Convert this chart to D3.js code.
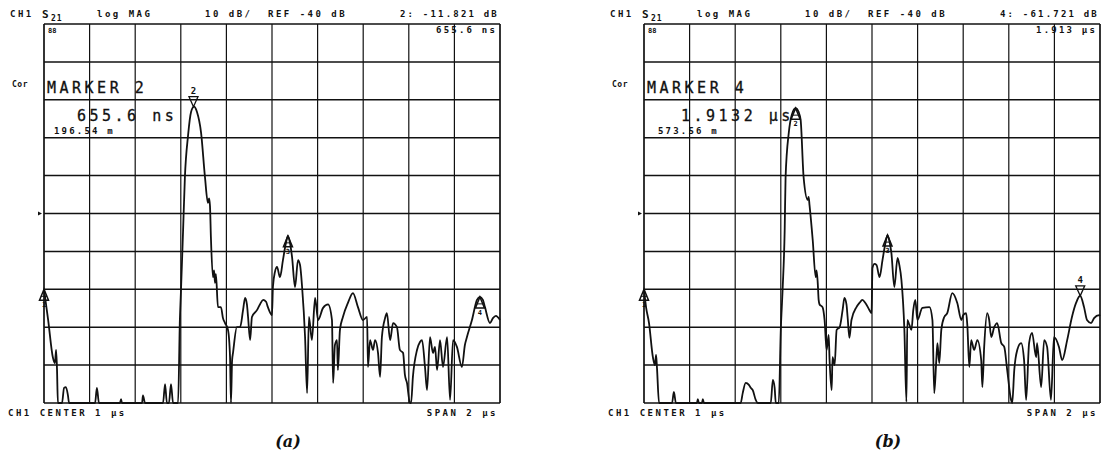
<!DOCTYPE html>
<html><head><meta charset="utf-8">
<script src="https://cdn.jsdelivr.net/npm/d3@7"></script>
<style>
html,body{margin:0;padding:0;background:#fff;}
svg{display:block;}
.sm{font-family:"DejaVu Sans Mono",monospace;font-weight:bold;font-size:9px;letter-spacing:2.5px;fill:#111;}
.big{font-family:"DejaVu Sans Mono",monospace;font-size:15px;letter-spacing:3.5px;fill:#111;stroke:#111;stroke-width:0.3px;}
.cap{font-family:"DejaVu Serif",serif;font-weight:bold;font-style:italic;font-size:16px;fill:#111;}
</style></head>
<body>
<script>
// ---------- data ----------
const timeA = [0,18,39,48,53,57,61,79,88,96,105,110,224,232,241,333,338,342,430,434,443,522,531,539,548,557,566,588,596,601,610,618,632,645,658,671,689,706,719,724,728,732,741,746,750,754,763,776,785,794,807,816,820,825,829,846,860,873,882,890,895,904,912,934,947,961,974,982,1000,1004,1013,1022,1035,1048,1061,1070,1079,1088,1101,1114,1123,1132,1145,1154,1162,1175,1189,1202,1224,1246,1263,1268,1276,1285,1289,1298,1311,1333,1355,1377,1399,1417,1421,1430,1443,1452,1465,1474,1482,1496,1504,1518,1531,1548,1561,1575,1583,1592,1605,1610,1618,1636,1649,1658,1671,1680,1693,1706,1715,1724,1737,1750,1768,1781,1794,1811,1833,1846,1855,1877,1899,1912,1925,1934,1956,1969,1982,2000];
const dbA = [-60,-68,-78,-79.5,-76,-81,-90,-90,-86,-85.8,-88,-90,-90,-86,-90,-90,-89,-90,-90,-88,-90,-90,-85,-90,-90,-85,-90,-90,-68,-60,-44.5,-30.4,-19.3,-13.2,-11.8,-13.2,-18.7,-30.4,-37.2,-36,-38,-46.2,-56.8,-55,-58.3,-56,-64.7,-64.7,-67.6,-68.9,-70.7,-77.9,-90,-78.7,-76.8,-70,-70,-65.5,-62.3,-64,-67.3,-73.4,-67.3,-65.5,-64,-62.8,-63.3,-64.7,-66.8,-59.4,-55.4,-54.1,-56.8,-52.3,-47.8,-45.9,-47.8,-51.5,-59.4,-52.3,-53.6,-59.4,-72.6,-87.4,-67.3,-73.4,-62.3,-68.1,-64.9,-64,-68.1,-84.7,-74.7,-73.4,-81.3,-70.7,-67.3,-63.6,-61,-64.7,-68.1,-67.3,-80.5,-73.4,-76,-73.4,-76.8,-83.1,-72.6,-67.6,-66.3,-73.4,-68.9,-70,-76,-76.8,-82.6,-84.7,-90,-90,-83.1,-76,-73.9,-73.4,-80.5,-86.6,-72.6,-76.8,-75.2,-81.3,-73.4,-80.5,-72.6,-89.2,-73.4,-75.2,-80.5,-74.7,-72.6,-68.1,-62.8,-62,-62.8,-64.7,-68.9,-67.6,-67,-68.1];
const timeB = [0,9,22,39,48,53,57,66,123,131,140,232,236,241,254,258,263,424,433,446,460,468,477,490,499,556,565,573,578,591,600,608,617,621,635,648,665,678,687,700,718,722,726,740,753,757,762,766,770,783,792,801,810,814,823,827,836,845,858,871,879,888,893,901,910,932,945,958,971,989,998,1002,1011,1020,1033,1046,1059,1068,1077,1085,1098,1112,1120,1129,1142,1151,1155,1164,1173,1181,1190,1199,1221,1252,1265,1273,1282,1287,1295,1304,1317,1330,1352,1374,1392,1400,1413,1418,1427,1435,1448,1462,1479,1484,1492,1505,1514,1523,1536,1549,1567,1580,1593,1610,1615,1624,1637,1654,1667,1676,1689,1702,1720,1724,1742,1755,1768,1785,1798,1820,1834,1856,1877,1895,1913,1930,1943,1961,1974,1996,2000];
const dbB = [-60,-64.7,-68.9,-77.9,-80,-77.3,-80.8,-90,-90,-87.1,-90,-90,-89,-90,-90,-89,-90,-90,-87.4,-84.7,-85.2,-86,-86.6,-89.2,-90,-90,-83.9,-86,-90,-90,-70.7,-60,-44.4,-30.4,-18.7,-14,-12.2,-13.2,-15.3,-30.4,-36.4,-35.6,-37.8,-47,-56.8,-55,-58.3,-62.8,-64,-64.7,-68.1,-76,-72,-78.7,-86.6,-77.9,-80,-70.7,-70,-65.5,-62.3,-64,-67.3,-72.8,-68.1,-64.7,-63.6,-62.8,-63.6,-65.5,-66.3,-54.4,-53.3,-53.6,-56.8,-52.3,-47.8,-45.7,-47.5,-50.4,-59.4,-51.7,-53.6,-57.5,-70.7,-89.7,-68.1,-69.4,-70.7,-65.5,-62.8,-68.1,-64.9,-64.7,-68.1,-87.4,-78.7,-74.2,-79.5,-70.7,-67.3,-66.3,-61,-63.6,-68.1,-66.8,-66.3,-69.4,-80.5,-73.4,-76,-73.4,-78.7,-85.8,-75.2,-66.3,-68.1,-72.6,-70,-68.9,-74.2,-75.2,-81.3,-89.2,-90,-81.3,-76,-74.2,-78.7,-89.2,-74.2,-71.5,-77.9,-74.2,-85.8,-73.4,-75.2,-89.2,-72.6,-75.2,-78.7,-73.4,-67.3,-63.6,-61.7,-64.7,-68.1,-68.9,-67.6,-66.8,-67];

const markerIds = [1, 2, 3, 4];
const markerTimeA = [0, 655.6, 1070, 1912];
const markerDbA = [-60, -11.821, -45.9, -62];
const markerTimeB = [0, 665, 1068, 1913.2];
const markerDbB = [-60, -12.2, -45.7, -61.721];
const activeMarker = [2, 4];

const timeDomain = [0, 2000];     // ns : center 1 µs, span 2 µs
const dbDomain = [-90, 10];       // 10 dB/div, ref -40 dB at centre line
const xTicks = d3.range(0, 2001, 200);
const yTicks = d3.range(-90, 11, 10);
const refLevel = -40;

const headerLeft = ["CH1", "log MAG", "10 dB/", "REF -40 dB"];
const readoutVal = ["2: -11.821 dB", "4: -61.721 dB"];
const readoutTime = ["655.6 ns", "1.913 µs"];
const markerTitle = ["MARKER 2", "MARKER 4"];
const markerTimeTxt = ["655.6 ns", "1.9132 µs"];
const markerDistTxt = ["196.54 m", "573.56 m"];
const footLeft = "CH1 CENTER 1 µs";
const footRight = "SPAN 2 µs";
const captions = ["(a)", "(b)"];

// ---------- drawing ----------
const W = 1101, H = 457;
const svg = d3.select("body").append("svg").attr("width", W).attr("height", H);

const panels = [
  {off: 0,   x0: 44,  x1: 500,  t: timeA, d: dbA, mt: markerTimeA, md: markerDbA},
  {off: 600, x0: 644, x1: 1100, t: timeB, d: dbB, mt: markerTimeB, md: markerDbB}
];

panels.forEach((p, i) => {
  const g = svg.append("g");
  const x = d3.scaleLinear().domain(timeDomain).range([p.x0, p.x1]);
  const y = d3.scaleLinear().domain(dbDomain).range([403, 24]);

  // grid
  g.selectAll(".vg").data(xTicks).join("line")
    .attr("x1", d => x(d)).attr("x2", d => x(d))
    .attr("y1", y(dbDomain[0])).attr("y2", y(dbDomain[1]))
    .attr("stroke", "#111").attr("stroke-width", (d, j) => (j === 0 || j === xTicks.length - 1) ? 1.7 : 1.2);
  g.selectAll(".hg").data(yTicks).join("line")
    .attr("x1", x(timeDomain[0])).attr("x2", x(timeDomain[1]))
    .attr("y1", d => y(d)).attr("y2", d => y(d))
    .attr("stroke", "#111").attr("stroke-width", (d, j) => (j === 0 || j === yTicks.length - 1) ? 1.7 : 1.5);

  // reference position arrow
  const ry = y(refLevel);
  g.append("path").attr("d", `M${x(0) - 6},${ry - 2}L${x(0) - 2},${ry}L${x(0) - 6},${ry + 2}Z`).attr("fill", "#111");

  // trace
  const pts = d3.zip(p.t, p.d);
  g.append("path").datum(pts)
    .attr("d", d3.line().x(d => x(d[0])).y(d => y(d[1])).curve(d3.curveMonotoneX))
    .attr("fill", "none").attr("stroke", "#111").attr("stroke-width", 1.8)
    .attr("stroke-linejoin", "round");

  // markers
  markerIds.forEach((id, k) => {
    const mx = x(p.mt[k]), my = y(p.md[k]);
    if (id === activeMarker[i]) {
      g.append("path").attr("d", `M${mx},${my}L${mx - 4.5},${my - 10}L${mx + 4.5},${my - 10}Z`)
        .attr("fill", "none").attr("stroke", "#111").attr("stroke-width", 1.3);
      g.append("text").attr("class", "sm").attr("x", mx).attr("y", my - 13)
        .attr("text-anchor", "middle").style("letter-spacing", "0px").style("font-size", "9px").text(id);
    } else {
      g.append("path").attr("d", `M${mx},${my}L${mx - 4.5},${my + 11}L${mx + 4.5},${my + 11}Z`)
        .attr("fill", "none").attr("stroke", "#111").attr("stroke-width", 1.5);
      g.append("line").attr("x1", mx - 3).attr("x2", mx + 3).attr("y1", my + 7).attr("y2", my + 7)
        .attr("stroke", "#111").attr("stroke-width", 1);
      g.append("text").attr("class", "sm").attr("x", mx).attr("y", my + 18)
        .attr("text-anchor", "middle").style("letter-spacing", "0px").style("font-size", "7px").text(id);
    }
  });

  // header
  const o = p.off;
  const hx = [10, 97, 205, 268];
  headerLeft.forEach((t, k) => {
    g.append("text").attr("class", "sm").attr("x", o + hx[k]).attr("y", 17).text(t);
  });
  g.append("text").attr("class", "sm").attr("x", o + 42).attr("y", 18).style("font-size", "11px").text("S");
  g.append("text").attr("class", "sm").attr("x", o + 51).attr("y", 21).style("font-size", "8px").style("letter-spacing", "1px").text("21");
  g.append("text").attr("class", "sm").attr("x", p.x1 - 1).attr("y", 17).attr("text-anchor", "end")
    .style("letter-spacing", "2.2px").text(readoutVal[i]);
  g.append("text").attr("class", "sm").attr("x", p.x1 - 3).attr("y", 33).attr("text-anchor", "end")
    .style("letter-spacing", "2.2px").text(readoutTime[i]);
  g.append("text").attr("class", "sm").attr("x", p.x0 + 4).attr("y", 33).style("font-size", "7px").style("letter-spacing", "0px").text("88");
  g.append("text").attr("class", "sm").attr("x", o + 12).attr("y", 87).style("font-size", "8px").style("letter-spacing", "0.5px").text("Cor");

  // marker readout block
  g.append("text").attr("class", "big").attr("x", p.x0 + 3).attr("y", 93).text(markerTitle[i]);
  g.append("text").attr("class", "big").attr("x", o + (i === 0 ? 77 : 81)).attr("y", 121).text(markerTimeTxt[i]);
  g.append("text").attr("class", "sm").attr("x", o + (i === 0 ? 54 : 58)).attr("y", 134).style("letter-spacing", "2.2px").text(markerDistTxt[i]);

  // footer
  g.append("text").attr("class", "sm").attr("x", o + 8).attr("y", 416).text(footLeft);
  g.append("text").attr("class", "sm").attr("x", p.x1 - 2).attr("y", 416).attr("text-anchor", "end").text(footRight);

  // caption
  g.append("text").attr("class", "cap").attr("x", (p.x0 + p.x1) / 2 + 16).attr("y", 447).attr("text-anchor", "middle").text(captions[i]);
});
</script>
</body></html>
